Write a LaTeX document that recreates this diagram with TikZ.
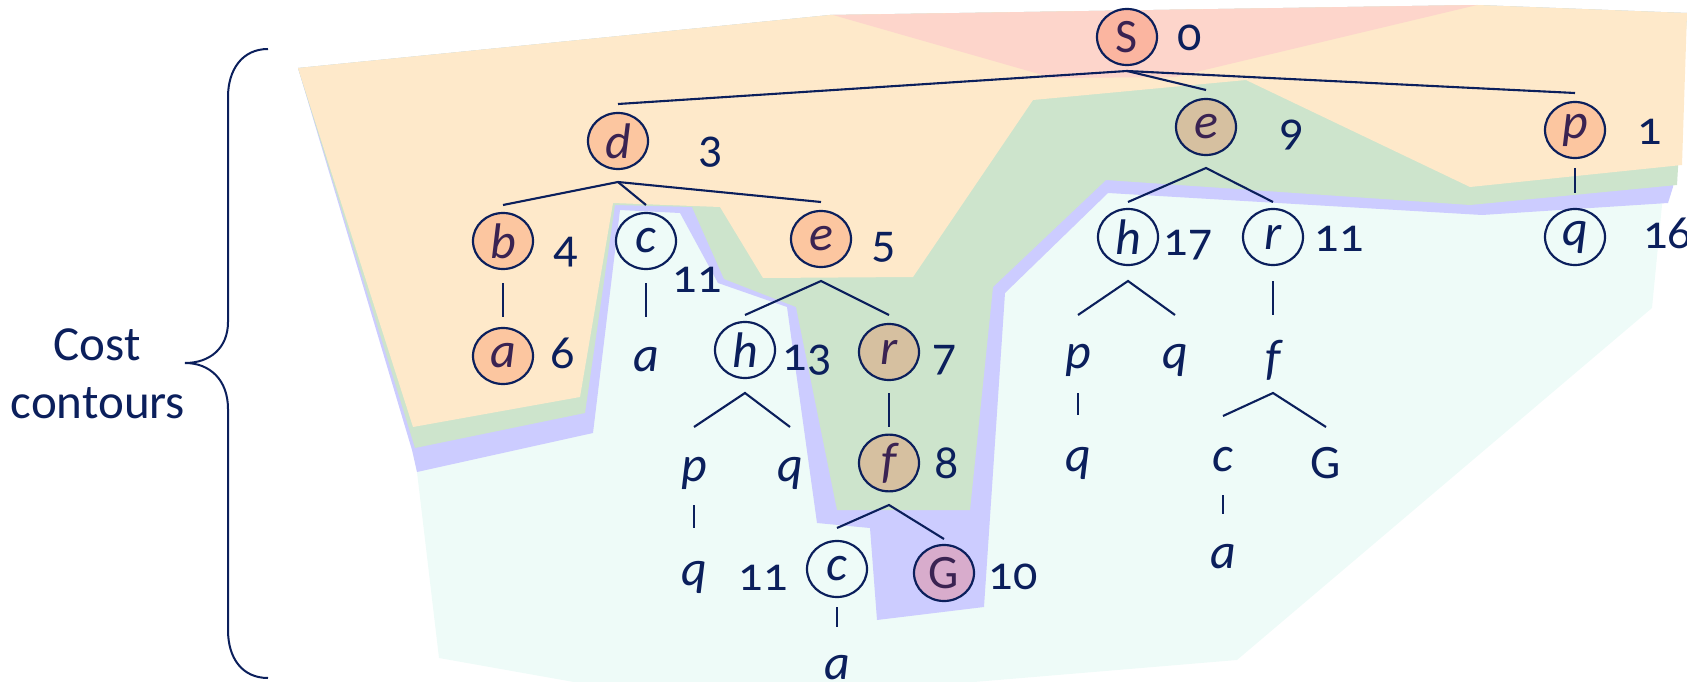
\documentclass[tikz,border=0pt]{standalone}
\usepackage{fontspec}
\setmainfont{Carlito}[Numbers=OldStyle]
\usetikzlibrary{shapes.geometric}
\definecolor{navy}{HTML}{0B1F5C}
\definecolor{ink}{HTML}{3A2352}
\definecolor{cyanbg}{HTML}{EEFBF8}
\definecolor{lavbg}{HTML}{CCCCFF}
\definecolor{greenbg}{HTML}{CDE4CC}
\definecolor{orangebg}{HTML}{FEE9CA}
\definecolor{pinkbg}{HTML}{FDD5CB}
\definecolor{salmonfill}{HTML}{FBB5A0}
\definecolor{peachfill}{HTML}{FCC6A0}
\definecolor{tanfill}{HTML}{D6C0A0}
\definecolor{mauvefill}{HTML}{D8ACCC}
\begin{document}
\begin{tikzpicture}[x=1pt,y=-1pt,
  every node/.style={font=\fontsize{48}{54}\selectfont, text=navy, inner sep=0pt},
  tn/.style={ellipse, draw=navy, line width=2.2pt, minimum width=60pt, minimum height=56pt},
  it/.style={font=\fontsize{50}{56}\selectfont\itshape},
  filled/.style={tn, fill=#1, text=ink},
  caption/.style={font=\fontsize{49}{56}\selectfont},
  edge/.style={draw=navy, line width=2.1pt},
  brace/.style={draw=navy, line width=2pt}]
\useasboundingbox (0,0) rectangle (1687,682);
% ---- cost contours (regions) ----
\fill[cyanbg] (410,430) -- (417,472) -- (439,658) -- (585,684) -- (950,684) -- (1237,660)
  -- (1652,308) -- (1662,205) -- (1665,190) -- (1100,175) -- (600,195) -- cycle;
\fill[lavbg] (298,68) -- (830,15) -- (1477,5) -- (1687,13) -- (1673,187) -- (1668,203)
  -- (1482,215) -- (1108,193) -- (1005,293) -- (984,607) -- (877,620) -- (870,528)
  -- (817,523) -- (787,307) -- (718,283) -- (680,213) -- (620,210) -- (593,433)
  -- (417,472) -- (412,450) -- cycle;
\fill[greenbg] (298,68) -- (830,15) -- (1477,5) -- (1687,13) -- (1677,185) -- (1470,205)
  -- (1106,180) -- (993,287) -- (970,510) -- (837,510) -- (796,307) -- (724,279)
  -- (692,207) -- (615,205) -- (585,413) -- (415,448) -- cycle;
\fill[orangebg] (298,68) -- (830,15) -- (1477,5) -- (1687,13) -- (1682,165) -- (1470,187)
  -- (1246,80) -- (1033,100) -- (913,277) -- (763,278) -- (720,207) -- (613,203)
  -- (580,397) -- (413,427) -- cycle;
\fill[pinkbg] (833,15) -- (1477,5) -- (1175,77) -- (1053,78) -- cycle;
% ---- brace and caption ----
\draw[brace] (268,49) .. controls (242,49) and (228,70) .. (228,97) -- (228,322)
  .. controls (228,348) and (210,363) .. (185,363)
  .. controls (210,363) and (228,380) .. (228,409) -- (228,630)
  .. controls (228,658) and (242,678) .. (268,678);
\node[caption] (cost) at (97,345) {Cost};
\node[caption] (contours) at (98,403) {contours};
% ---- tree nodes ----
\node[filled=salmonfill] (S) at (1127,37) {S};
\node[filled=peachfill, it] (d) at (618,141) {d};
\node[filled=tanfill, it] (e9) at (1206,127) {e};
\node[filled=peachfill, it] (p1) at (1575,130) {p};
\node[filled=peachfill, it] (b) at (503,241) {b};
\node[tn, it] (c11) at (646,241) {c};
\node[filled=peachfill, it] (e5) at (821,239) {e};
\node[filled=peachfill, it] (a6) at (503,356) {a};
\node[it] (ca) at (646,360) {a};
\node[tn, it] (h13) at (745,350) {h};
\node[filled=tanfill, it] (r7) at (889,352) {r};
\node[it] (hp) at (694,473) {p};
\node[it] (hq) at (790,473) {q};
\node[filled=tanfill, it] (f8) at (889,463) {f};
\node[it] (hpq) at (694,577) {q};
\node[tn, it] (fc) at (837,569) {c};
\node[filled=mauvefill] (G10) at (944,573) {G};
\node[it] (fca) at (837,668) {a};
\node[tn, it] (h17) at (1128,237) {h};
\node[tn, it] (r11) at (1273,237) {r};
\node[tn, it] (q16) at (1575,237) {q};
\node[it] (rp) at (1078,360) {p};
\node[it] (rq) at (1175,360) {q};
\node[it] (rf) at (1273,360) {f};
\node[it] (rpq) at (1078,463) {q};
\node[it] (rc) at (1223,460) {c};
\node (rG) at (1326,463) {G};
\node[it] (rca) at (1223,557) {a};
% ---- cost labels ----
\node (l0) at (1190,38) {0};
\node (l3) at (711,152) {3};
\node (l9) at (1292,135) {9};
\node (l1) at (1650,132) {1};
\node (l4) at (566,252) {4};
\node (l11a) at (697,280) {11};
\node (l5) at (884,247) {5};
\node (l6) at (563,353) {6};
\node (l13) at (807,360) {13};
\node (l7) at (945,360) {7};
\node (l8) at (947,463) {8};
\node (l11b) at (763,578) {11};
\node (l10) at (1013,577) {10};
\node (l17) at (1188,245) {17};
\node (l11c) at (1339,239) {11};
\node[anchor=west] (l16) at (1643,233) {16};
% ---- connectors ----
\draw[edge] ([yshift=37pt]d.center) -- ([yshift=-34pt]S.center) -- ([yshift=37pt]p1.center);
\draw[edge] ([yshift=-34pt]S.center) -- ([yshift=37pt]e9.center);
\draw[edge] ([yshift=36pt]b.center) -- ([yshift=-41pt]d.center) -- ([yshift=37pt]e5.center);
\draw[edge] ([yshift=-41pt]d.center) -- ([yshift=36pt]c11.center);
\draw[edge] ([yshift=-42pt]b.center) -- ([yshift=39pt]a6.center);
\draw[edge] ([yshift=-42pt]c11.center) -- ([yshift=43pt]ca.center);
\draw[edge] ([yshift=35pt]h13.center) -- ([yshift=-42pt]e5.center) -- ([yshift=37pt]r7.center);
\draw[edge] ([yshift=46pt]hp.center) -- ([yshift=-43pt]h13.center) -- ([yshift=46pt]hq.center);
\draw[edge] ([yshift=-41pt]r7.center) -- ([yshift=36pt]f8.center);
\draw[edge] ([yshift=-32pt]hp.center) -- ([yshift=49pt]hpq.center);
\draw[edge] ([yshift=41pt]fc.center) -- ([yshift=-42pt]f8.center) -- ([yshift=34pt]G10.center);
\draw[edge] ([yshift=-38pt]fc.center) -- ([yshift=41pt]fca.center);
\draw[edge] ([yshift=35pt]h17.center) -- ([yshift=-41pt]e9.center) -- ([yshift=35pt]r11.center);
\draw[edge] ([yshift=-38pt]p1.center) -- ([yshift=44pt]q16.center);
\draw[edge] ([yshift=45pt]rp.center) -- ([yshift=-44pt]h17.center) -- ([yshift=45pt]rq.center);
\draw[edge] ([yshift=-44pt]r11.center) -- ([yshift=45pt]rf.center);
\draw[edge] ([yshift=-33pt]rp.center) -- ([yshift=48pt]rpq.center);
\draw[edge] ([yshift=44pt]rc.center) -- ([yshift=-33pt]rf.center) -- ([yshift=36pt]rG.center);
\draw[edge] ([yshift=-35pt]rc.center) -- ([yshift=43pt]rca.center);
\end{tikzpicture}
\end{document}
